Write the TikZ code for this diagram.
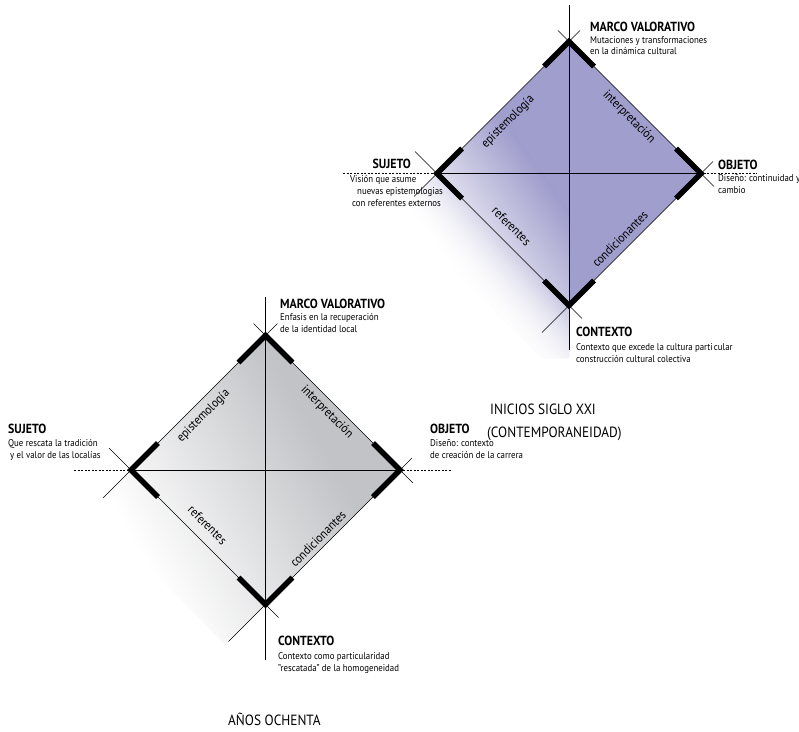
\documentclass[tikz,border=0pt]{standalone}
\usepackage{fontspec}
\setmainfont{PT Sans}[FakeStretch=0.9]
\usetikzlibrary{calc}
\definecolor{purp}{RGB}{160,158,204}
\definecolor{greyc}{RGB}{194,195,199}
\begin{document}
\begin{tikzpicture}[x=1pt,y=-1pt,
  thinln/.style={line width=0.6pt},
  axisln/.style={line width=0.7pt},
  dashln/.style={line width=0.7pt, dash pattern=on 2pt off 1.5pt},
  thickv/.style={line width=5.5pt, line join=miter, line cap=butt},
  hd/.style={font=\bfseries\fontsize{13.2}{13.2}\selectfont, inner sep=0pt, anchor=base west},
  ds/.style={font=\fontsize{9.8}{11}\selectfont, inner sep=0pt, anchor=base west},
  ax/.style={font=\fontsize{12.6}{12.6}\selectfont, inner sep=0pt, anchor=center},
  big/.style={font=\fontsize{14.8}{14.8}\selectfont, inner sep=0pt, anchor=base west}]
\useasboundingbox (0,0) rectangle (799,731);

% ---------- top diagram coordinates ----------
\coordinate (T1) at (569,41.5);
\coordinate (L1) at (437,173.5);
\coordinate (R1) at (701,173.5);
\coordinate (B1) at (569,305.5);
\coordinate (C1) at (569,173.5);
% ---------- bottom diagram coordinates ----------
\coordinate (T2) at (265.5,335.5);
\coordinate (L2) at (131,470);
\coordinate (R2) at (400,470);
\coordinate (B2) at (265.5,604.5);
\coordinate (C2) at (265.5,470);

% ---------- top shading ----------
\fill[purp] (T1) -- (R1) -- (B1) -- (L1) -- cycle;
\begin{scope}
  \clip (T1) -- (L1) -- (397,213.5) -- (541.5,358) -- (569,358) -- cycle;
  \begin{scope}[shift={(C1)}, rotate=35]
    \foreach \v in {-150,-148,...,-24} {
      \pgfmathsetmacro\pc{(\v+150)/1.25}
      \fill[purp!\pc!white] (\v,-400) rectangle (\v+2.6,400);
    }
  \end{scope}
\end{scope}
% soft fade of the top shadow, away from the referentes edge
\begin{scope}
  \clip (L1) -- (B1) -- (569,358) -- (541.5,358) -- (397,213.5) -- cycle;
  \begin{scope}[shift={(L1)}, rotate=225]
    \foreach \w in {0,2,...,58} {
      \pgfmathsetmacro\op{min(0.85,\w/60)}
      \fill[white, opacity=\op] (\w,-400) rectangle (\w+2,400);
    }
  \end{scope}
\end{scope}

% ---------- bottom shading ----------
\fill[greyc] (T2) -- (R2) -- (B2) -- (L2) -- cycle;
\begin{scope}
  \clip (T2) -- (L2) -- (91,510) -- (225.5,644.5) -- (B2) -- (R2) -- cycle;
  \begin{scope}[shift={(C2)}, rotate=30]
    \foreach \v in {-150,-148,...,58} {
      \pgfmathsetmacro\pc{(\v+150)/2.1}
      \fill[greyc!\pc!white] (\v,-400) rectangle (\v+2.6,400);
    }
  \end{scope}
\end{scope}

% ---------- top lines ----------
\coordinate (v1a) at (569,5);
\coordinate (v1b) at (569,350);
\draw[axisln] (v1a) -- (v1b);
\coordinate (h1a) at (343,173.5);
\coordinate (h1b) at (757,173.5);
\draw[dashln] (h1a) -- (h1b);
\draw[axisln] (L1) -- (R1);
\coordinate (e1a) at (414,196.5);
\coordinate (e1b) at (580,30.5);
\coordinate (e1c) at (558,30.5);
\coordinate (e1d) at (714,186.5);
\coordinate (e1e) at (713,161.5);
\coordinate (e1f) at (542,332.5);
\coordinate (e1g) at (582,318.5);
\coordinate (e1h) at (415,151.5);
\draw[thinln] (e1a) -- (L1) -- (T1) -- (e1b);
\draw[thinln] (e1c) -- (T1) -- (R1) -- (e1d);
\draw[thinln] (e1e) -- (R1) -- (B1) -- (e1f);
\draw[thinln] (e1g) -- (B1) -- (L1) -- (e1h);
% thick corners
\coordinate (k1a) at (544,66.5);  \coordinate (k1b) at (594,66.5);
\coordinate (k1c) at (462,148.5); \coordinate (k1d) at (462,198.5);
\coordinate (k1e) at (676,148.5); \coordinate (k1f) at (676,198.5);
\coordinate (k1g) at (544,280.5); \coordinate (k1h) at (594,280.5);
\draw[thickv] (k1a) -- (T1) -- (k1b);
\draw[thickv] (k1c) -- (L1) -- (k1d);
\draw[thickv] (k1e) -- (R1) -- (k1f);
\draw[thickv] (k1g) -- (B1) -- (k1h);

% ---------- bottom lines ----------
\coordinate (v2a) at (265.5,297);
\coordinate (v2b) at (265.5,660);
\draw[axisln] (v2a) -- (v2b);
\coordinate (h2a) at (74,470);
\coordinate (h2b) at (451,470);
\draw[dashln] (h2a) -- (h2b);
\draw[axisln] (L2) -- (R2);
\coordinate (e2a) at (103,498);
\coordinate (e2b) at (277.5,323.5);
\coordinate (e2c) at (253.5,323.5);
\coordinate (e2d) at (413,483);
\coordinate (e2e) at (412,458);
\coordinate (e2f) at (228.5,641.5);
\coordinate (e2g) at (278.5,617.5);
\coordinate (e2h) at (109,448);
\draw[thinln] (e2a) -- (L2) -- (T2) -- (e2b);
\draw[thinln] (e2c) -- (T2) -- (R2) -- (e2d);
\draw[thinln] (e2e) -- (R2) -- (B2) -- (e2f);
\draw[thinln] (e2g) -- (B2) -- (L2) -- (e2h);
\coordinate (k2a) at (238.5,362.5); \coordinate (k2b) at (292.5,362.5);
\coordinate (k2c) at (158,443);     \coordinate (k2d) at (158,497);
\coordinate (k2e) at (373,443);     \coordinate (k2f) at (373,497);
\coordinate (k2g) at (238.5,577.5); \coordinate (k2h) at (292.5,577.5);
\draw[thickv] (k2a) -- (T2) -- (k2b);
\draw[thickv] (k2c) -- (L2) -- (k2d);
\draw[thickv] (k2e) -- (R2) -- (k2f);
\draw[thickv] (k2g) -- (B2) -- (k2h);

% ---------- top texts ----------
\node[hd] (mv1) at (590,31.5) {MARCO VALORATIVO};
\node[ds] (mv1a) at (590,43.5) {Mutaciones y transformaciones};
\node[ds] (mv1b) at (590,54.5) {en la dinámica cultural};
\node[hd, anchor=base east] (su1) at (411,168) {SUJETO};
\node[ds] (su1a) at (350,182) {Visión que asume};
\node[ds] (su1b) at (357,194) {nuevas epistemologias};
\node[ds] (su1c) at (352,206) {con referentes externos};
\node[hd] (ob1) at (718,169.5) {OBJETO};
\node[ds] (ob1a) at (718,181) {Diseño: continuidad y};
\node[ds] (ob1b) at (718,193) {cambio};
\node[hd] (co1) at (576,336) {CONTEXTO};
\node[ds] (co1a) at (576,350) {Contexto que excede la cultura parti\hspace{1.2pt}cular};
\node[ds] (co1b) at (576,362) {construcción cultural colectiva};
\node[ax, rotate=45] (ep1) at (508,122) {epistemología};
\node[ax, rotate=-45] (in1) at (629,117) {interpretación};
\node[ax, rotate=-45] (re1) at (511.5,226) {referentes};
\node[ax, rotate=45] (cd1) at (620,239) {condicionantes};

% ---------- bottom texts ----------
\node[hd] (mv2) at (280,308.5) {MARCO VALORATIVO};
\node[ds] (mv2a) at (280,320.5) {Enfasis en la recuperación};
\node[ds] (mv2b) at (280,332) {de la identidad local};
\node[hd] (su2) at (8,433.5) {SUJETO};
\node[ds] (su2a) at (8,446) {Que rescata la tradición};
\node[ds] (su2b) at (10,458) {y el valor de las localías};
\node[hd] (ob2) at (430,433.5) {OBJETO};
\node[ds] (ob2a) at (430,446) {Diseño: contexto};
\node[ds] (ob2b) at (430,458) {de creación de la carrera};
\node[hd] (co2) at (278,645) {CONTEXTO};
\node[ds] (co2a) at (278,659) {Contexto como particularidad};
\node[ds] (co2b) at (278,671) {"rescatada" de la homogeneidad};
\node[ax, rotate=45] (ep2) at (203.5,416) {epistemología};
\node[ax, rotate=-45] (in2) at (327,412) {interpretación};
\node[ax, rotate=-45] (re2) at (207.5,525) {referentes};
\node[ax, rotate=45] (cd2) at (318,539) {condicionantes};

% ---------- period titles ----------
\node[big] (ti1) at (490,414) {INICIOS SIGLO XXI};
\node[big] (ti1b) at (487,437) {(CONTEMPORANEIDAD)};
\node[big] (ti2) at (228,725) {AÑOS OCHENTA};
\end{tikzpicture}
\end{document}
